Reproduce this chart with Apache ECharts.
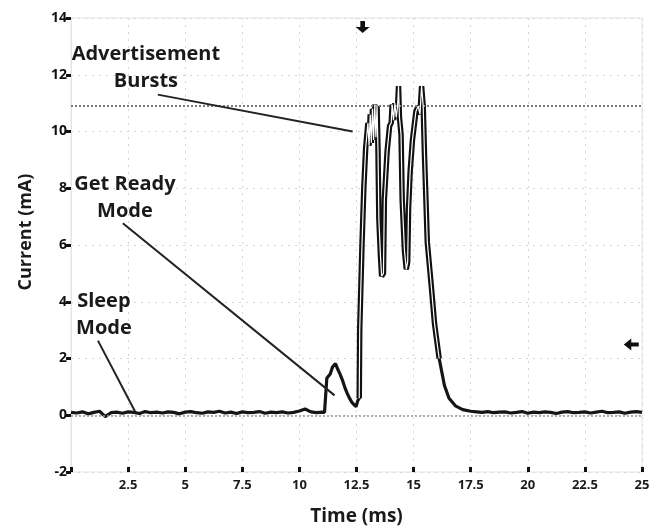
<!DOCTYPE html>
<html>
<head>
<meta charset="utf-8">
<script src="https://cdn.jsdelivr.net/npm/echarts@6/dist/echarts.min.js"></script>
<style>
  html, body { margin: 0; padding: 0; background: #fff; }
  #chart { width: 664px; height: 531px; }
</style>
</head>
<body>
<div id="chart"></div>
<script>
// sleep mode baseline, one sample every 0.25 ms from 0 to 11 ms
const sleepCurrent = [
  0.10, 0.08, 0.12, 0.05, 0.10, 0.14, -0.05, 0.09, 0.11, 0.07,
  0.12, 0.10, 0.06, 0.13, 0.09, 0.11, 0.08, 0.12, 0.10, 0.05,
  0.11, 0.13, 0.09, 0.07, 0.12, 0.10, 0.14, 0.08, 0.11, 0.06,
  0.12, 0.09, 0.10, 0.13, 0.07, 0.11, 0.09, 0.12, 0.08, 0.10,
  0.15, 0.22, 0.12, 0.09, 0.11
]

// get ready bump + three advertisement bursts
const pulseTime = [
  11.10, 11.18, 11.20, 11.35, 11.45, 11.58, 11.68, 11.78, 11.88, 11.98,
  12.08, 12.18, 12.28, 12.38, 12.48, 12.55, 12.62, 12.64, 12.72, 12.74,
  12.80, 12.82, 12.88, 12.90, 12.98, 13.00, 13.05, 13.10, 13.15, 13.20,
  13.25, 13.30, 13.35, 13.40, 13.44, 13.48, 13.55, 13.60, 13.68, 13.72,
  13.80, 13.84, 13.92, 13.95, 14.02, 14.06, 14.12, 14.18, 14.24, 14.30,
  14.34, 14.38, 14.45, 14.50, 14.60, 14.68, 14.74, 14.78, 14.85, 14.95,
  15.10, 15.20, 15.28, 15.35, 15.42, 15.48, 15.60, 15.78, 15.92, 16.12,
  16.35, 16.55, 16.85, 17.15
]
const pulseCurrent = [
  0.10, 0.15, 1.30, 1.45, 1.70, 1.82, 1.62, 1.45, 1.25, 1.00,
  0.80, 0.62, 0.48, 0.38, 0.30, 0.50, 0.60, 3.00, 3.00, 6.00,
  6.00, 8.00, 8.00, 9.40, 9.40, 10.30, 9.50, 10.60, 9.60, 10.80,
  9.70, 10.95, 9.80, 10.90, 9.40, 6.90, 5.60, 4.90, 5.00, 7.60,
  7.60, 9.30, 9.30, 10.20, 10.30, 10.95, 10.40, 11.00, 10.50, 10.90,
  11.60, 10.50, 9.90, 7.60, 5.80, 5.15, 5.40, 7.30, 8.60, 9.70,
  10.70, 10.90, 10.60, 11.60, 10.90, 9.10, 6.10, 4.50, 3.20, 2.00,
  1.05, 0.60, 0.32, 0.20
]

// back to sleep, one sample every 0.25 ms from 17.5 to 25 ms
const tailCurrent = [
  0.14, 0.12, 0.10, 0.13, 0.09, 0.11, 0.12, 0.08, 0.10, 0.13,
  0.07, 0.11, 0.09, 0.12, 0.10, 0.06, 0.11, 0.13, 0.09, 0.10,
  0.12, 0.08, 0.11, 0.14, 0.09, 0.10, 0.12, 0.07, 0.11, 0.13,
  0.10
]

const advLevel = 10.9
const xTicks = ['2.5', '5', '7.5', '10', '12.5', '15', '17.5', '20', '22.5', '25']

const trace = [
  ...sleepCurrent.map((v, i) => [i * 0.25, v]),
  ...pulseTime.map((t, i) => [t, pulseCurrent[i]]),
  ...tailCurrent.map((v, i) => [17.5 + i * 0.25, v])
]
const bursts = pulseTime
  .map((t, i) => [t, pulseCurrent[i]])
  .filter(p => p[0] >= 12.6 && p[0] <= 16.2)

const font = '"Open Sans", "DejaVu Sans", sans-serif'
const noteStyle = {
  color: '#1a1a1a',
  fontFamily: font,
  fontWeight: 'bold',
  fontSize: 20,
  lineHeight: 27,
  align: 'center',
  verticalAlign: 'middle'
}
const leader = { color: '#222', width: 2, type: 'solid' }

const chart = echarts.init(document.getElementById('chart'))

chart.setOption({
  animation: false,
  backgroundColor: '#fff',
  grid: {
    left: 71,
    right: 22,
    top: 18,
    bottom: 57,
    show: true,
    borderColor: '#e4e4e4',
    borderWidth: 1
  },
  xAxis: {
    type: 'value',
    min: 0,
    max: 25,
    interval: 2.5,
    name: 'Time (ms)',
    nameLocation: 'middle',
    nameGap: 35,
    nameTextStyle: {
      color: '#1a1a1a',
      fontFamily: font,
      fontWeight: 'bold',
      fontSize: 19
    },
    axisLine: { show: false, onZero: false },
    axisTick: {
      show: true,
      inside: true,
      length: 5,
      lineStyle: { color: '#111', width: 3 }
    },
    axisLabel: {
      color: '#1a1a1a',
      fontFamily: font,
      fontWeight: 'bold',
      fontSize: 13,
      margin: 7,
      formatter: v => (xTicks.includes(String(v)) ? String(v) : '')
    },
    splitLine: {
      show: true,
      lineStyle: { color: '#d6d6d6', type: [2, 5], width: 1 }
    }
  },
  yAxis: {
    type: 'value',
    min: -2,
    max: 14,
    interval: 2,
    name: 'Current (mA)',
    nameLocation: 'middle',
    nameGap: 36,
    nameTextStyle: {
      color: '#1a1a1a',
      fontFamily: font,
      fontWeight: 'bold',
      fontSize: 18,
      padding: [0, 0, 0, 26]
    },
    axisLine: { show: true, onZero: false, lineStyle: { color: '#e4e4e4' } },
    axisTick: {
      show: true,
      length: 5,
      lineStyle: { color: '#111', width: 3 }
    },
    axisLabel: {
      color: '#111',
      fontFamily: font,
      fontWeight: 'bold',
      fontSize: 14,
      margin: 4
    },
    splitLine: {
      show: true,
      lineStyle: { color: '#d6d6d6', type: [2, 5], width: 1 }
    }
  },
  series: [
    {
      name: 'current',
      type: 'line',
      data: trace,
      showSymbol: false,
      z: 3,
      lineStyle: { color: '#151515', width: 3.2 },
      markLine: {
        silent: true,
        symbol: 'none',
        label: { show: false },
        data: [
          [
            { coord: [0, advLevel], lineStyle: { color: '#7a7a7a', width: 2, type: [2, 2] } },
            { coord: [25, advLevel] }
          ],
          [
            { coord: [0, 0], lineStyle: { color: '#9a9a9a', width: 1.5, type: [2, 2] } },
            { coord: [25, 0] }
          ],
          [{ coord: [3.8, 11.3], lineStyle: leader }, { coord: [12.33, 10.0] }],
          [{ coord: [2.27, 6.77], lineStyle: leader }, { coord: [11.54, 0.7] }],
          [{ coord: [1.18, 2.63], lineStyle: leader }, { coord: [2.8, 0.14] }]
        ]
      },
      markPoint: {
        silent: true,
        data: [
          {
            coord: [3.28, 12.23],
            symbolSize: 0,
            label: { show: true, position: 'inside', formatter: 'Advertisement\nBursts', ...noteStyle }
          },
          {
            coord: [2.36, 7.67],
            symbolSize: 0,
            label: { show: true, position: 'inside', formatter: 'Get Ready\nMode', ...noteStyle }
          },
          {
            coord: [1.44, 3.53],
            symbolSize: 0,
            label: { show: true, position: 'inside', formatter: 'Sleep\nMode', ...noteStyle }
          },
          {
            coord: [12.77, 13.68],
            symbol: 'path://M4,0 L8,0 L8,6 L12,6 L6,12 L0,6 L4,6 Z',
            symbolSize: [14, 12],
            itemStyle: { color: '#111' },
            label: { show: false }
          },
          {
            coord: [24.53, 2.49],
            symbol: 'path://M12,4 L12,8 L6,8 L6,12 L0,6 L6,0 L6,4 Z',
            symbolSize: [15, 12],
            itemStyle: { color: '#111' },
            label: { show: false }
          }
        ]
      }
    },
    {
      name: 'burst outline',
      type: 'line',
      data: bursts,
      showSymbol: false,
      silent: true,
      z: 4,
      lineStyle: { color: '#111', width: 5.5 }
    },
    {
      name: 'burst core',
      type: 'line',
      data: bursts,
      showSymbol: false,
      silent: true,
      z: 5,
      lineStyle: { color: '#fff', width: 1.2 }
    }
  ]
})
</script>
</body>
</html>
